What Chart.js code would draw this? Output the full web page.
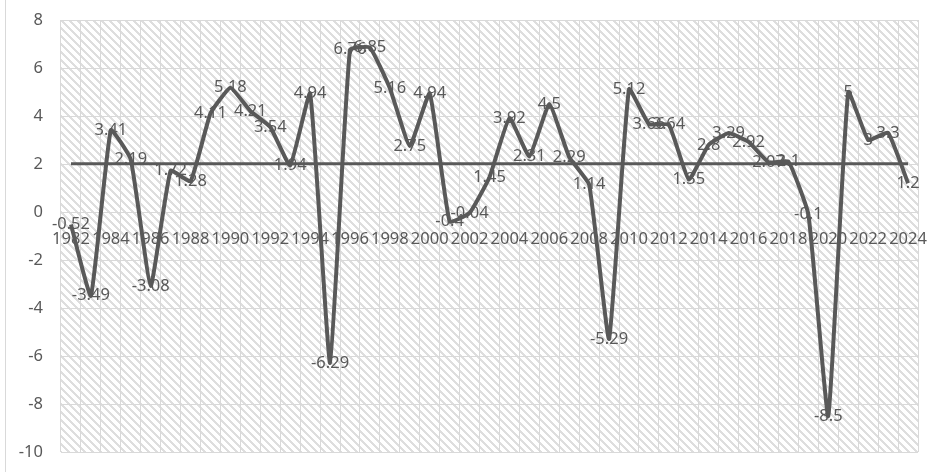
<!DOCTYPE html>
<html>
<head>
<meta charset="utf-8">
<title>Annual growth 1982–2024</title>
<script src="https://cdn.jsdelivr.net/npm/chart.js@4/dist/chart.umd.min.js"></script>
<style>
  html, body { margin: 0; padding: 0; background: #ffffff; }
  #wrap { width: 946px; height: 472px; position: relative; }
</style>
</head>
<body>
<div id="wrap"><canvas id="chart" width="946" height="472"></canvas></div>
<script>
// Years on the category axis
const years = ['1982','1983','1984','1985','1986','1987','1988','1989','1990','1991',
  '1992','1993','1994','1995','1996','1997','1998','1999','2000','2001',
  '2002','2003','2004','2005','2006','2007','2008','2009','2010','2011',
  '2012','2013','2014','2015','2016','2017','2018','2019','2020','2021',
  '2022','2023','2024'];

// Yearly values
const growth = [-0.52, -3.49, 3.41, 2.19, -3.08, 1.72, 1.28, 4.11, 5.18, 4.21,
  3.54, 1.94, 4.94, -6.29, 6.76, 6.85, 5.16, 2.75, 4.94, -0.4,
  -0.04, 1.45, 3.92, 2.31, 4.5, 2.29, 1.14, -5.29, 5.12, 3.66,
  3.64, 1.35, 2.8, 3.29, 2.92, 2.07, 2.1, -0.1, -8.5, 5,
  3, 3.3, 1.2];

// Average level drawn as a flat line across the period
const averageLevel = 2.01;
const averageLine = [
  { x: '1982', y: averageLevel },
  { x: '2024', y: averageLevel }
];

// Value axis ticks
const yTicks = [-10, -8, -6, -4, -2, 0, 2, 4, 6, 8];

const TEXT = '#595959';
const GRID = '#d9d9d9';
const FONT = { family: '"Noto Sans", "Open Sans", sans-serif', size: 16.5 };

// Diagonal hatch used as the plot-area fill
function makeHatch(ctx) {
  const c = document.createElement('canvas');
  c.width = 8; c.height = 8;
  const g = c.getContext('2d');
  g.fillStyle = '#ffffff';
  g.fillRect(0, 0, 8, 8);
  g.fillStyle = '#dedede';
  for (let y = 0; y < 8; y++) {
    for (let k = 0; k < 3; k++) {
      g.fillRect((y + k) % 8, y, 1, 1);
    }
  }
  return ctx.createPattern(c, 'repeat');
}

const backgroundPlugin = {
  id: 'plotBackground',
  beforeDraw(chart) {
    const { ctx, chartArea: a, width, height } = chart;
    ctx.save();
    ctx.fillStyle = '#ffffff';
    ctx.fillRect(0, 0, width, height);
    ctx.fillStyle = makeHatch(ctx);
    ctx.fillRect(a.left, a.top, a.right - a.left, a.bottom - a.top);
    // outer frame line on the left
    ctx.strokeStyle = GRID;
    ctx.lineWidth = 1;
    ctx.beginPath();
    ctx.moveTo(5.5, 0);
    ctx.lineTo(5.5, height);
    ctx.stroke();
    ctx.restore();
  }
};

// Value labels centred on each point of the main series
const valueLabelPlugin = {
  id: 'valueLabels',
  afterDatasetsDraw(chart) {
    const { ctx } = chart;
    const meta = chart.getDatasetMeta(0);
    const data = chart.data.datasets[0].data;
    ctx.save();
    ctx.font = `${FONT.size}px ${FONT.family}`;
    ctx.fillStyle = TEXT;
    ctx.textAlign = 'center';
    ctx.textBaseline = 'middle';
    meta.data.forEach((pt, i) => {
      ctx.fillText(String(data[i]), pt.x, pt.y);
    });
    ctx.restore();
  }
};

new Chart(document.getElementById('chart'), {
  type: 'line',
  data: {
    labels: years,
    datasets: [
      {
        data: growth,
        borderColor: '#595959',
        borderWidth: 4,
        pointRadius: 0,
        tension: 0.12,
        fill: false
      },
      {
        data: averageLine,
        borderColor: '#595959',
        borderWidth: 3,
        pointRadius: 0,
        tension: 0,
        fill: false
      }
    ]
  },
  options: {
    responsive: false,
    animation: false,
    devicePixelRatio: 1,
    layout: { padding: { top: 20, right: 28, bottom: 20, left: 0 } },
    plugins: {
      legend: { display: false },
      tooltip: { enabled: false }
    },
    scales: {
      x: {
        type: 'category',
        position: { y: 0 },
        offset: true,
        grid: { offset: true, color: GRID, lineWidth: 1, drawTicks: false },
        border: { color: GRID, width: 1 },
        ticks: {
          autoSkip: false,
          maxRotation: 0,
          minRotation: 0,
          padding: 17,
          color: TEXT,
          font: FONT,
          callback(value, index) {
            return index % 2 === 0 ? this.getLabelForValue(value) : '';
          }
        }
      },
      y: {
        min: yTicks[0],
        max: yTicks[yTicks.length - 1],
        afterFit(scale) {
          scale.width = 61;
          scale.paddingTop = 0;
          scale.paddingBottom = 0;
        },
        afterBuildTicks(scale) { scale.ticks = yTicks.map(v => ({ value: v })); },
        grid: { color: GRID, lineWidth: 1, drawTicks: false },
        border: { display: false },
        ticks: { padding: 18, color: TEXT, font: FONT }
      }
    }
  },
  plugins: [backgroundPlugin, valueLabelPlugin]
});
</script>
</body>
</html>
